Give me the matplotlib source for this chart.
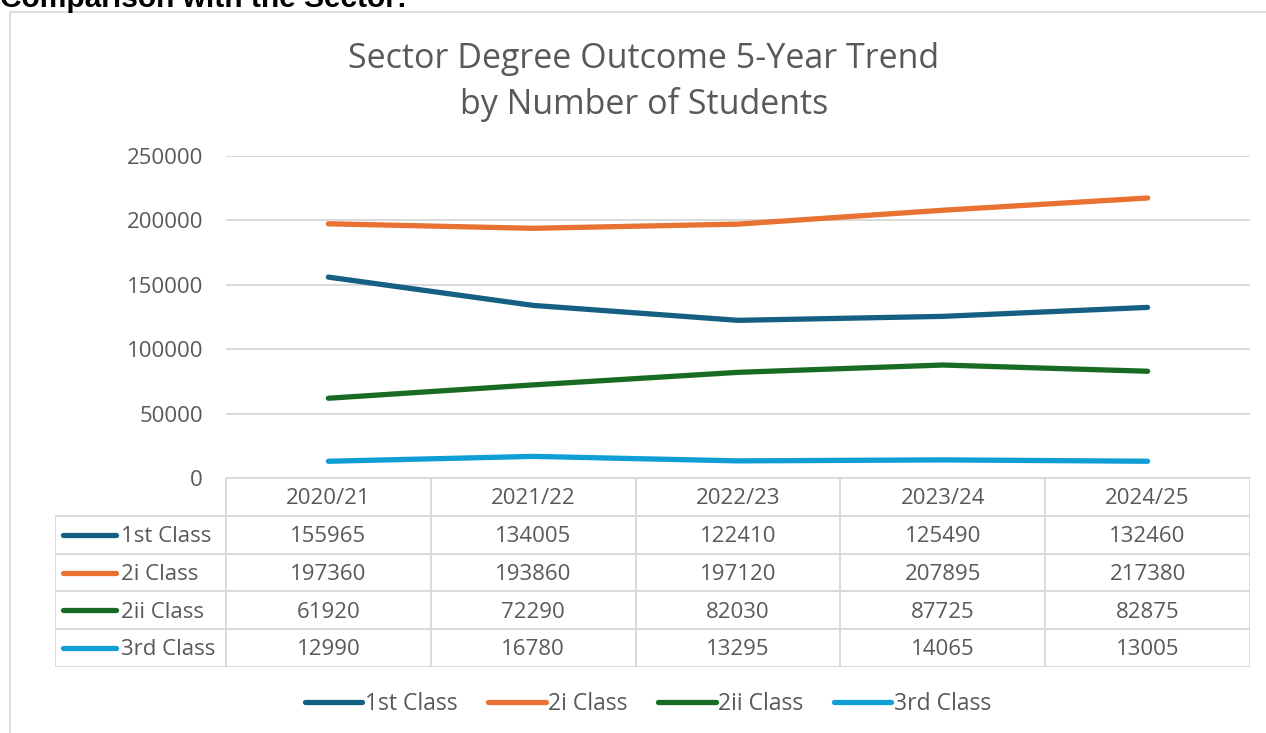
import matplotlib
matplotlib.use("Agg")
import matplotlib.pyplot as plt
from matplotlib.lines import Line2D
from matplotlib.patches import Rectangle

years = ["2020/21", "2021/22", "2022/23", "2023/24", "2024/25"]
series_names = ["1st Class", "2i Class", "2ii Class", "3rd Class"]
first_class = [155965, 134005, 122410, 125490, 132460]
upper_second = [197360, 193860, 197120, 207895, 217380]
lower_second = [61920, 72290, 82030, 87725, 82875]
third_class = [12990, 16780, 13295, 14065, 13005]
y_ticks = [0, 50000, 100000, 150000, 200000, 250000]

series_values = [first_class, upper_second, lower_second, third_class]
colors = ["#156082", "#E97132", "#196B24", "#0F9ED5"]

W, H = 1266, 733
plt.rcParams['font.family'] = ['Open Sans', 'DejaVu Sans']
TXT = "#595959"
GRID = "#d9d9d9"
FS = 16

fig = plt.figure(figsize=(W / 100, H / 100), dpi=100)


def fx(x):
    return x / W


def fy(y):
    return 1 - y / H


# outer chart border
fig.patches.append(Rectangle((fx(10), fy(740)), fx(1270) - fx(10), fy(12) - fy(740),
                             transform=fig.transFigure, fill=False, edgecolor=GRID, lw=1.2))

# cut-off heading above chart
fig.text(0.0, fy(7), "Comparison with the Sector:", fontsize=21.5, fontweight='bold',
         family=['Liberation Sans'], color='black', ha='left', va='baseline')

# title
fig.text(fx(644), fy(59), "Sector Degree Outcome 5-Year Trend", fontsize=24.5, color=TXT,
         ha='center', va='center')
fig.text(fx(644), fy(104), "by Number of Students", fontsize=24.5, color=TXT,
         ha='center', va='center')

# main axes
L, R, T, B = 226, 1250, 156, 478
ax = fig.add_axes([fx(L), fy(B), fx(R) - fx(L), fy(T) - fy(B)])
xs = list(range(len(years)))
for vals, c, name in zip(series_values, colors, series_names):
    ax.plot(xs, vals, color=c, lw=3.8, solid_capstyle='round', label=name, zorder=3)
ax.set_xlim(-0.5, len(years) - 0.5)
ax.set_ylim(0, 250000)
ax.set_yticks(y_ticks)
ax.set_yticklabels([str(v) for v in y_ticks])
ax.set_xticks([])
ax.grid(axis='y', color=GRID, lw=1.4)
ax.set_axisbelow(True)
for s in ax.spines.values():
    s.set_visible(False)
ax.tick_params(axis='y', length=0, pad=16.5, labelsize=FS, labelcolor=TXT)

# data table
TL = 55
label_w = (L - TL) / ((R - L) / len(years))
tax = fig.add_axes([fx(TL), fy(667), fx(R) - fx(TL), fy(478) - fy(667)])
tax.set_xlim(-0.5 - label_w, len(years) - 0.5)
nrows = len(series_names) + 1
tax.set_ylim(0, nrows)
tax.axis('off')
lk = dict(color=GRID, lw=1.4, solid_capstyle='butt')
# horizontal lines
tax.plot([-0.5, len(years) - 0.5], [nrows, nrows], **lk)
for r in range(nrows):
    tax.plot([-0.5 - label_w, len(years) - 0.5], [r, r], **lk)
# vertical lines
for c in range(len(years) + 1):
    tax.plot([c - 0.5, c - 0.5], [0, nrows], **lk)
tax.plot([-0.5 - label_w, -0.5 - label_w], [0, nrows - 1], **lk)
# header
for i, yr in enumerate(years):
    tax.text(i, nrows - 0.55, yr, ha='center', va='center', fontsize=FS, color=TXT)
# rows
for r, (name, vals, c) in enumerate(zip(series_names, series_values, colors)):
    yc = nrows - 1.55 - r
    x0 = -0.5 - label_w
    tax.plot([x0 + 0.04, x0 + 0.3], [yc + 0.05, yc + 0.05], color=c, lw=3.8,
             solid_capstyle='round')
    tax.text(x0 + 0.32, yc, name, ha='left', va='center', fontsize=FS, color=TXT)
    for i, v in enumerate(vals):
        tax.text(i, yc, str(v), ha='center', va='center', fontsize=FS, color=TXT)

# legend
handles = [Line2D([0], [0], color=c, lw=3.8, solid_capstyle='round') for c in colors]
fig.legend(handles, series_names, loc='center', bbox_to_anchor=(fx(648), fy(704)), ncol=4,
           frameon=False, fontsize=16.5, labelcolor=TXT, handlelength=2.5, handletextpad=0.1,
           columnspacing=1.35)

fig.savefig("out.png", dpi=100)
